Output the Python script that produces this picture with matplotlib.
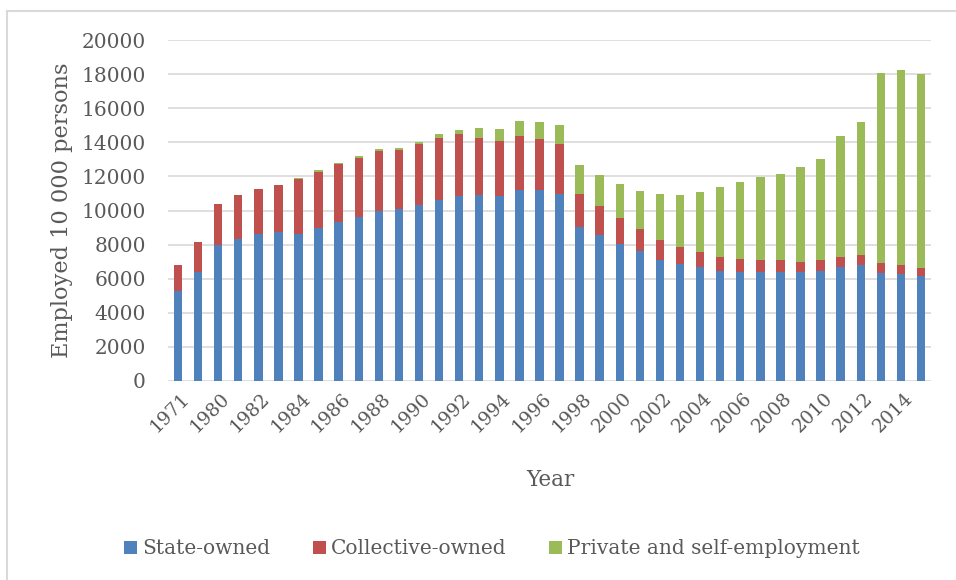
import matplotlib
matplotlib.use("Agg")
import matplotlib.pyplot as plt
import matplotlib.transforms as mtransforms
from matplotlib.lines import Line2D
from matplotlib.patches import Patch
import numpy as np

# years on the category axis
years = ["1971", "1975"] + [str(y) for y in range(1980, 2016)]

# employed persons, 10 000 persons
state_owned = [5300, 6400, 8000, 8330, 8620, 8760, 8620, 8990, 9300, 9610,
               9950, 10080, 10300, 10630, 10840, 10880, 10840, 11210, 11190, 10980,
               9030, 8540, 8050, 7610, 7120, 6860, 6680, 6460, 6410, 6410,
               6410, 6410, 6480, 6660, 6800, 6330, 6270, 6150]
collective_owned = [1480, 1750, 2400, 2570, 2630, 2730, 3200, 3280, 3430, 3490,
                    3530, 3490, 3590, 3610, 3630, 3390, 3220, 3140, 3020, 2900,
                    1930, 1700, 1500, 1310, 1130, 975, 880, 800, 740, 680,
                    660, 590, 600, 605, 590, 566, 527, 490]
private_self = [0, 0, 10, 10, 10, 20, 60, 80, 80, 80,
                100, 120, 140, 230, 270, 570, 740, 920, 960, 1130,
                1700, 1850, 2030, 2220, 2690, 3100, 3500, 4100, 4530, 4900,
                5100, 5550, 5940, 7110, 7810, 11190, 11470, 11390]

series_names = ["State-owned", "Collective-owned", "Private and self-employment"]
colors = ["#4F81BD", "#C0504D", "#9BBB59"]
text_color = "#595959"
grid_color = "#D9D9D9"

plt.rcParams["font.family"] = ["DejaVu Serif"]

fig = plt.figure(figsize=(9.56, 5.8), dpi=100)
ax = fig.add_axes([168 / 956, 1 - 381 / 580, 763 / 956, 341 / 580])

x = np.arange(len(years))
state = np.array(state_owned)
coll = np.array(collective_owned)
priv = np.array(private_self)

ax.bar(x, state, width=0.42, color=colors[0], zorder=2)
ax.bar(x, coll, width=0.42, bottom=state, color=colors[1], zorder=2)
ax.bar(x, priv, width=0.42, bottom=state + coll, color=colors[2], zorder=2)

ax.set_xlim(-0.5, len(years) - 0.5)
ax.set_ylim(0, 20000)
ax.set_yticks(np.arange(0, 20001, 2000))
ax.yaxis.grid(True, color=grid_color, linewidth=1.2)
ax.set_axisbelow(True)
for s in ax.spines.values():
    s.set_visible(False)

ax.tick_params(axis="y", length=0, pad=16, labelsize=14.5, labelcolor=text_color)
ax.tick_params(axis="x", length=0, pad=4, labelsize=13.5, labelcolor=text_color)

# every other year is labelled
ax.set_xticks(x[::2])
ax.set_xticklabels(years[::2], rotation=45, ha="right", va="center",
                   rotation_mode="anchor")
offset = mtransforms.ScaledTranslation(9 / 100, -9 / 100, fig.dpi_scale_trans)
for lab in ax.get_xticklabels():
    lab.set_transform(lab.get_transform() + offset)

fig.text(62 / 956, 1 - 210 / 580, "Employed 10 000 persons", rotation=90,
         ha="center", va="center", fontsize=16.2, color=text_color)
fig.text(550 / 956, 1 - 480 / 580, "Year", ha="center", va="center",
         fontsize=15.5, color=text_color)

handles = [Patch(facecolor=c, edgecolor="none") for c in colors]
leg = fig.legend(handles, series_names, loc="center", ncol=3,
                 bbox_to_anchor=(492 / 956, 1 - 549 / 580), frameon=False,
                 fontsize=14.5, handlelength=0.65, handleheight=0.65,
                 handletextpad=0.25, columnspacing=2.1)
for t in leg.get_texts():
    t.set_color(text_color)

# chart frame (only top and left edges show in the crop)
fig.add_artist(Line2D([7 / 956, 1], [1 - 10.5 / 580, 1 - 10.5 / 580],
                      transform=fig.transFigure, color=grid_color, linewidth=1.5))
fig.add_artist(Line2D([7 / 956, 7 / 956], [0, 1 - 10.5 / 580],
                      transform=fig.transFigure, color=grid_color, linewidth=1.5))

fig.savefig("out.png", dpi=100)
